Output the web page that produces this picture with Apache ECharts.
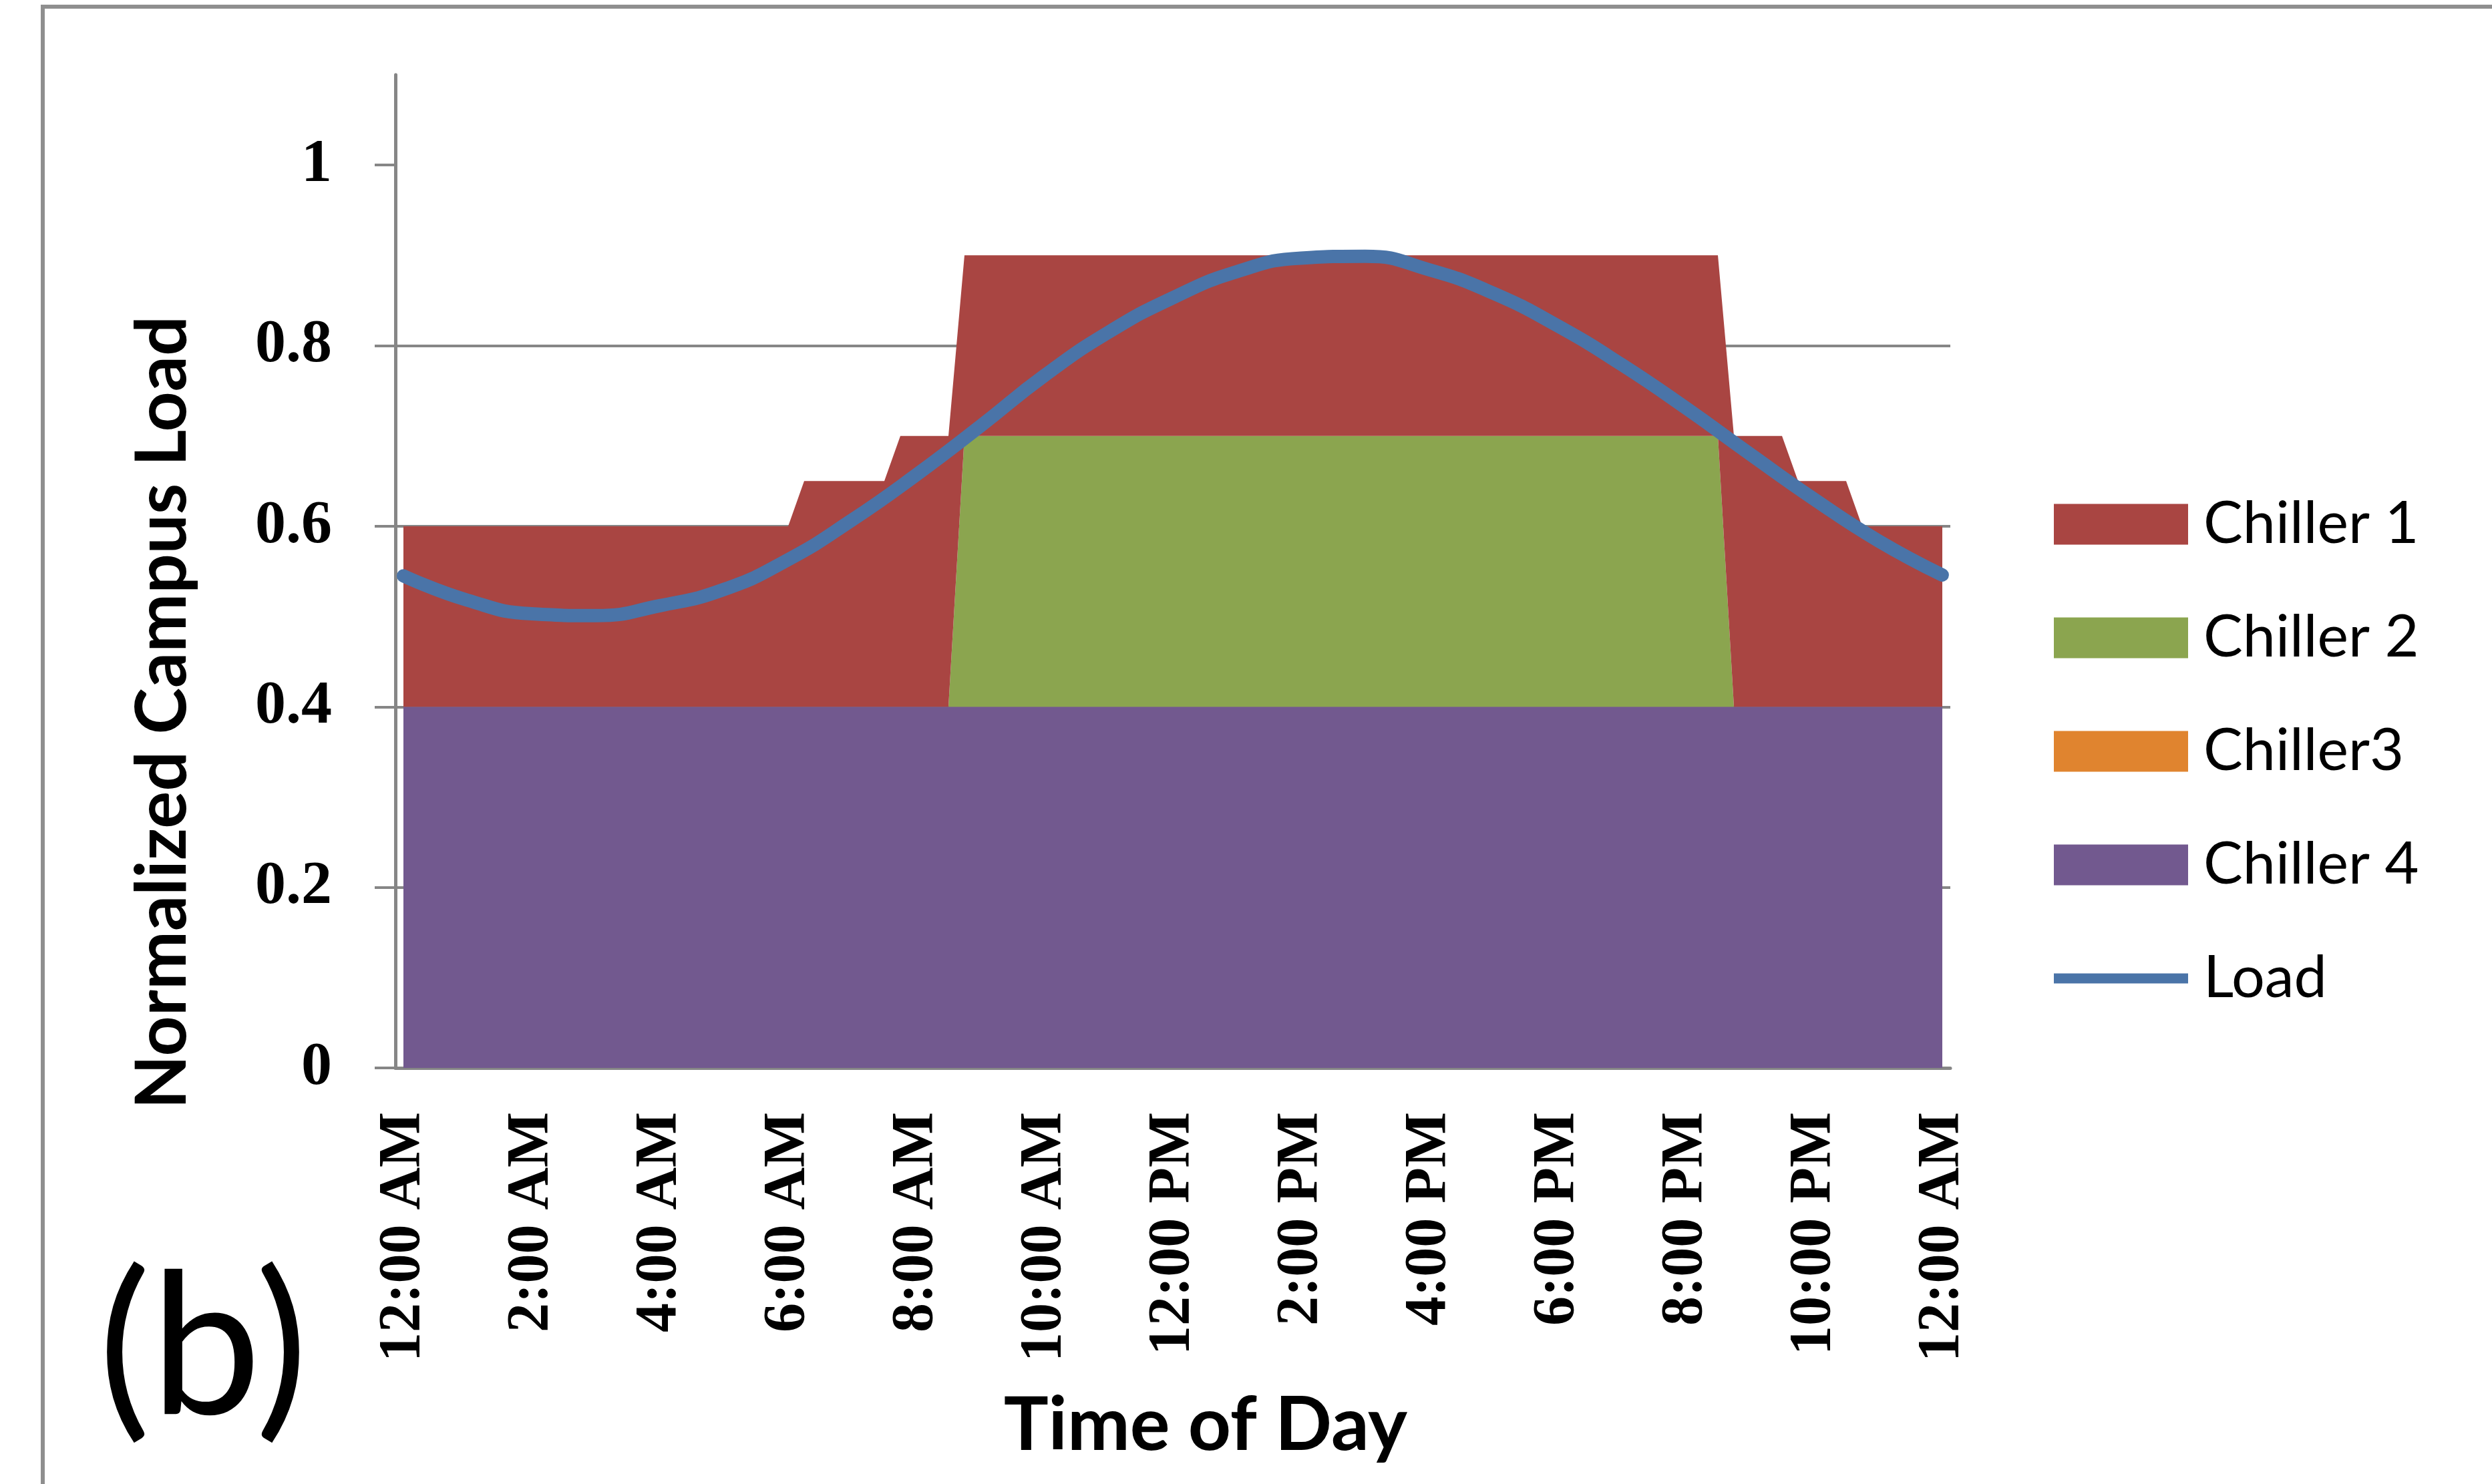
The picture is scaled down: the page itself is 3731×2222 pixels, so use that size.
<!DOCTYPE html>
<html>
<head>
<meta charset="utf-8">
<title>Chiller dispatch (b)</title>
<script src="https://cdn.jsdelivr.net/npm/echarts@6/dist/echarts.min.js"></script>
<style>
  html, body { margin: 0; padding: 0; background: #fff; }
  #main { width: 3731px; height: 2222px; }
</style>
</head>
<body>
<div id="main"></div>
<script>
// x axis: 15 minute slots from 12:00 AM to 12:00 AM next day
const slotCount = 97;
const tickLabels = ['12:00 AM', '2:00 AM', '4:00 AM', '6:00 AM', '8:00 AM', '10:00 AM',
  '12:00 PM', '2:00 PM', '4:00 PM', '6:00 PM', '8:00 PM', '10:00 PM', '12:00 AM'];
const yTicks = [0, 0.2, 0.4, 0.6, 0.8, 1];

// slots where the chiller output changes (stacked areas)
const breakSlots = [0, 24, 25, 30, 31, 34, 35, 82, 83, 86, 87, 90, 91, 96];
const chiller4 = [0.4, 0.4, 0.4, 0.4, 0.4, 0.4, 0.4, 0.4, 0.4, 0.4, 0.4, 0.4, 0.4, 0.4];
const chiller3 = [0, 0, 0, 0, 0, 0, 0, 0, 0, 0, 0, 0, 0, 0];
const chiller2 = [0, 0, 0, 0, 0, 0, 0.3, 0.3, 0, 0, 0, 0, 0, 0];
const chiller1 = [0.2, 0.2, 0.25, 0.25, 0.3, 0.3, 0.2, 0.2, 0.3, 0.3, 0.25, 0.25, 0.2, 0.2];

// campus load, read once an hour (every 4th slot)
const loadSlots = [0, 4, 8, 12, 16, 20, 24, 28, 32, 36, 40, 44, 48,
  52, 56, 60, 64, 68, 72, 76, 80, 84, 88, 92, 96];
const load = [0.545, 0.518, 0.503, 0.501, 0.512, 0.530, 0.563, 0.607, 0.657, 0.711, 0.767, 0.815, 0.853,
  0.882, 0.897, 0.899, 0.884, 0.858, 0.822, 0.779, 0.731, 0.680, 0.630, 0.584, 0.546];

const axisGray = '#868686';
// thin bar centred in the legend box, drawn as a line marker for Load
const lineIcon = 'path://M0,0L201,0L201,0ZM0,23L201,23L201,38L0,38ZM0,61L201,61L201,61Z';

function areaSeries(name, values, color) {
  return {
    name: name,
    type: 'line',
    stack: 'chillers',
    symbol: 'none',
    data: breakSlots.map((s, j) => [s, values[j]]),
    lineStyle: { width: 0 },
    itemStyle: { color: color },
    areaStyle: { color: color, opacity: 1 }
  };
}

let myChart = echarts.init(document.getElementById('main'));
myChart.setOption({
  animation: false,
  backgroundColor: '#fff',
  grid: { left: 592, right: 811, top: 112, bottom: 623 },
  legend: {
    orient: 'vertical',
    left: 3075,
    top: 741,
    padding: 0,
    itemWidth: 201,
    itemHeight: 61,
    itemGap: 82,
    itemStyle: { borderWidth: 0 },
    textStyle: { fontFamily: 'Lato', fontSize: 88, color: '#000', padding: [0, 0, 0, 18] },
    data: [
      { name: 'Chiller 1', icon: 'rect' },
      { name: 'Chiller 2', icon: 'rect' },
      { name: 'Chiller3', icon: 'rect' },
      { name: 'Chiller 4', icon: 'rect' },
      { name: 'Load', icon: lineIcon }
    ]
  },
  xAxis: {
    type: 'category',
    boundaryGap: true,
    data: Array.from({ length: slotCount }, (_, i) => i),
    axisLine: { lineStyle: { color: axisGray, width: 5 } },
    axisTick: { interval: 7, length: 38, lineStyle: { color: axisGray, width: 4 } },
    axisLabel: {
      interval: 7,
      rotate: 90,
      margin: 66,
      fontFamily: 'Liberation Serif',
      fontWeight: 'bold',
      fontSize: 88,
      color: '#000',
      formatter: (v, i) => tickLabels[i / 8] || ''
    },
    splitLine: { show: false }
  },
  yAxis: {
    type: 'value',
    min: 0,
    max: 1.1,
    interval: 0.2,
    axisLine: { show: true, lineStyle: { color: axisGray, width: 5 } },
    axisTick: { show: true, length: 31, customValues: yTicks, lineStyle: { color: axisGray, width: 4 } },
    axisLabel: {
      customValues: yTicks,
      margin: 95,
      fontFamily: 'Liberation Serif',
      fontWeight: 'bold',
      fontSize: 92,
      color: '#000'
    },
    splitLine: { show: true, showMaxLine: false, lineStyle: { color: axisGray, width: 4 } }
  },
  series: [
    areaSeries('Chiller 4', chiller4, '#72598F'),
    areaSeries('Chiller3', chiller3, '#E0842F'),
    areaSeries('Chiller 2', chiller2, '#8BA54F'),
    areaSeries('Chiller 1', chiller1, '#A94542'),
    {
      name: 'Load',
      type: 'line',
      symbol: 'none',
      smooth: true,
      data: loadSlots.map((s, j) => [s, load[j]]),
      itemStyle: { color: '#4A74A8' },
      lineStyle: { color: '#4A74A8', width: 20, cap: 'round' },
      z: 5
    }
  ],
  graphic: [
    {
      type: 'rect', silent: true,
      shape: { x: 64, y: 10, width: 3800, height: 2400 },
      style: { fill: 'none', stroke: '#8f8f8f', lineWidth: 6 }
    },
    {
      type: 'text', x: 244, y: 1067, rotation: Math.PI / 2,
      style: {
        text: 'Normalized Campus Load', fontFamily: 'Lato', fontWeight: 'bold', fontSize: 105, fill: '#000',
        align: 'center', verticalAlign: 'middle', textAlign: 'center', textVerticalAlign: 'middle'
      }
    },
    {
      type: 'text', x: 1805, y: 2135,
      style: {
        text: 'Time of Day', fontFamily: 'Lato', fontWeight: 'bold', fontSize: 112, fill: '#000',
        align: 'center', verticalAlign: 'middle', textAlign: 'center', textVerticalAlign: 'middle'
      }
    },
    {
      type: 'text', x: 304, y: 2022,
      style: {
        text: '(b)', fontFamily: 'Lato', fontSize: 295, fill: '#000',
        align: 'center', verticalAlign: 'middle', textAlign: 'center', textVerticalAlign: 'middle'
      }
    }
  ]
});
</script>
</body>
</html>
